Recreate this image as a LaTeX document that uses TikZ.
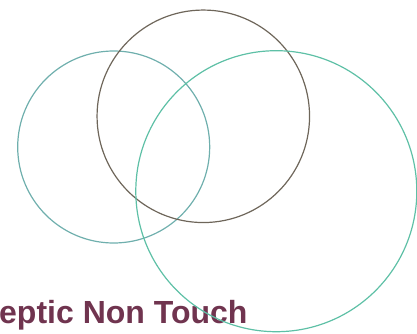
\documentclass[tikz,border=0pt]{standalone}
\usepackage{fontspec}
\setmainfont{Liberation Sans}
\definecolor{ringteal}{HTML}{6FAFAD}
\definecolor{ringbrown}{HTML}{6E665A}
\definecolor{ringgreen}{HTML}{5EC0A6}
\definecolor{labelplum}{HTML}{70344F}
\tikzset{
  ring/.style={draw, circle, line width=1.2pt, inner sep=0pt},
  caption/.style={font=\fontsize{32}{32}\selectfont\bfseries, text=labelplum, inner sep=0pt}
}
\begin{document}
\begin{tikzpicture}[x=1pt,y=-1pt]
	\useasboundingbox (0,0) rectangle (417,334);
	\node[caption, anchor=base west] (title) at (-1,323) {eptic Non Touch};
	\node[ring, draw=ringteal, minimum size=192pt] (left) at (113.7,147) {};
	\node[ring, draw=ringbrown, minimum size=212.5pt] (top) at (203.3,116.3) {};
	\node[ring, draw=ringgreen, minimum size=281pt] (right) at (276.3,191.2) {};
\end{tikzpicture}
\end{document}
